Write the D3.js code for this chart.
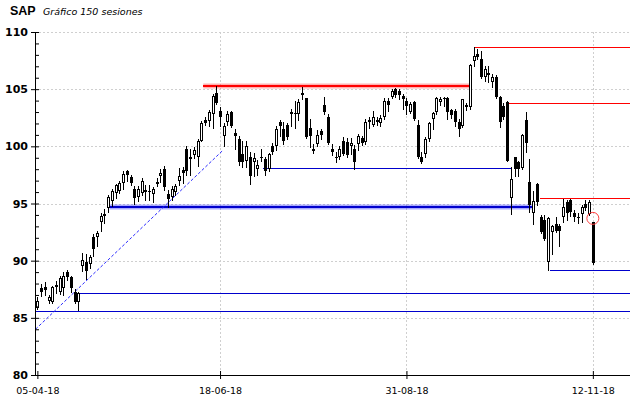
<!DOCTYPE html>
<html>
<head>
<meta charset="utf-8">
<script src="https://cdn.jsdelivr.net/npm/d3@7"></script>
<style>
  body { margin: 0; background: #fff; }
</style>
</head>
<body>
<div id="chart"></div>
<script>
const title = "SAP";
const subtitle = "Gráfico 150 sesiones";

// 150 sesiones (apertura, maximo, minimo, cierre)
const open = [
  85.9, 87.6, 87.7, 86.5, 86.4, 87.9, 87.3, 87.6, 89.0, 88.6,
  87.3, 86.4, 89.5, 89.9, 89.7, 92.1, 92.1, 93.4, 93.9, 94.6,
  95.2, 95.9, 96.1, 96.8, 97.8, 97.3, 96.3, 95.6, 95.9, 96.2,
  96.1, 95.8, 96.7, 97.4, 98.0, 95.8, 95.6, 96.0, 97.0, 97.9,
  99.8, 99.1, 99.2, 99.1, 100.5, 102.3, 102.2, 102.8, 104.7, 103.1,
  100.9, 102.1, 103.0, 101.2, 100.6, 99.3, 98.7, 99.1, 98.6, 98.0,
  99.1, 98.9, 98.0, 100.0, 100.0, 102.1, 101.5, 101.9, 103.0, 102.9,
  102.8, 104.6, 104.2, 101.6, 99.8, 100.2, 101.3, 103.6, 102.6, 99.8,
  99.1, 99.1, 100.5, 100.4, 100.0, 99.8, 100.2, 100.7, 100.4, 102.1,
  101.9, 102.3, 102.0, 102.6, 104.0, 104.3, 105.0, 104.8, 104.4, 104.0,
  103.0, 103.9, 101.9, 99.1, 99.3, 100.6, 102.4, 103.0, 103.9, 104.2,
  104.2, 103.2, 103.1, 102.1, 101.8, 103.6, 103.4, 107.5, 108.1, 107.6,
  106.1, 106.4, 105.6, 106.1, 104.3, 103.5, 103.9, 95.5, 99.1, 98.6,
  98.1, 102.3, 96.9, 94.2, 96.7, 93.8, 93.6, 89.9, 92.5, 93.2,
  93.0, 93.8, 95.1, 95.3, 94.2, 93.8, 94.1, 95.0, 94.1, 93.4
];
const high = [
  86.8, 88.0, 88.1, 87.0, 87.8, 88.2, 88.7, 89.0, 89.2, 88.7,
  87.5, 87.3, 90.7, 90.6, 90.5, 92.3, 92.6, 94.2, 94.5, 95.7,
  96.3, 96.7, 97.0, 97.8, 97.9, 97.5, 96.5, 96.5, 97.2, 96.6,
  96.6, 96.4, 97.2, 98.0, 98.3, 96.2, 96.5, 96.7, 98.1, 98.2,
  100.0, 99.8, 99.9, 100.6, 102.2, 102.6, 103.2, 104.6, 105.3, 103.4,
  102.0, 103.1, 103.1, 101.5, 100.9, 100.5, 100.5, 99.5, 99.4, 98.8,
  99.8, 99.1, 99.4, 100.3, 101.8, 102.3, 102.1, 102.0, 103.3, 104.0,
  104.1, 105.2, 104.2, 102.4, 100.2, 101.4, 101.5, 104.3, 102.8, 100.2,
  99.5, 100.0, 100.8, 100.7, 100.7, 100.1, 101.1, 100.9, 102.4, 102.6,
  103.1, 102.6, 102.7, 104.2, 104.2, 105.0, 105.1, 105.0, 104.6, 104.2,
  103.9, 104.0, 102.3, 99.5, 100.8, 102.1, 103.0, 104.3, 104.3, 104.3,
  104.3, 103.3, 103.3, 102.4, 104.1, 103.8, 107.2, 108.7, 108.5, 108.3,
  107.0, 107.0, 106.3, 106.2, 104.4, 103.8, 104.0, 98.2, 99.1, 98.7,
  101.1, 103.0, 98.9, 96.1, 96.8, 94.0, 94.0, 93.8, 93.1, 93.8,
  93.2, 95.4, 95.3, 95.4, 94.4, 94.2, 94.9, 95.3, 95.3, 93.4
];
const low = [
  85.8, 86.9, 87.0, 86.3, 86.3, 87.2, 87.1, 87.0, 88.3, 87.3,
  86.3, 85.7, 89.1, 88.4, 89.4, 90.4, 91.3, 92.6, 93.3, 94.3,
  94.8, 95.5, 95.9, 96.3, 97.0, 96.6, 95.0, 95.2, 95.7, 95.3,
  95.3, 95.1, 96.5, 96.9, 96.2, 94.7, 95.3, 95.7, 96.6, 96.8,
  97.5, 97.5, 99.0, 98.3, 100.5, 101.9, 101.8, 101.6, 103.7, 101.8,
  100.0, 101.9, 101.7, 99.8, 98.4, 98.2, 98.2, 96.7, 97.4, 97.5,
  98.7, 97.5, 97.8, 99.3, 99.7, 100.9, 100.2, 100.6, 101.8, 101.6,
  102.3, 104.1, 100.7, 99.9, 99.4, 100.0, 100.6, 102.8, 100.2, 99.2,
  98.6, 98.9, 99.2, 99.1, 99.3, 98.0, 99.7, 100.1, 100.2, 101.6,
  101.8, 101.9, 101.8, 102.4, 103.1, 104.2, 104.3, 104.1, 103.3, 102.8,
  102.9, 102.3, 99.0, 98.5, 99.1, 100.5, 101.5, 102.8, 103.6, 103.5,
  102.4, 102.5, 101.8, 100.9, 101.7, 103.2, 103.3, 107.0, 107.6, 106.0,
  105.7, 105.6, 105.2, 104.2, 101.7, 102.4, 98.7, 94.1, 97.4, 97.4,
  98.0, 99.5, 94.3, 93.2, 94.9, 92.4, 91.8, 89.2, 90.6, 92.5,
  91.3, 93.4, 93.6, 93.9, 93.5, 93.3, 93.4, 94.4, 94.0, 89.7
];
const close = [
  86.5, 87.3, 87.4, 86.8, 87.7, 87.7, 88.5, 88.7, 88.6, 87.6,
  86.4, 87.2, 90.1, 89.1, 90.3, 91.0, 92.4, 93.9, 94.1, 95.6,
  96.1, 96.6, 96.8, 97.6, 97.5, 96.8, 95.5, 96.3, 97.0, 96.0,
  96.0, 96.3, 96.9, 97.7, 96.4, 95.4, 96.3, 96.5, 97.4, 97.7,
  97.8, 98.9, 99.7, 100.5, 102.0, 102.0, 103.0, 104.4, 103.8, 102.6,
  101.8, 102.8, 101.8, 100.9, 98.6, 98.6, 100.0, 97.4, 99.0, 98.4,
  99.0, 97.8, 99.3, 99.5, 101.5, 101.8, 100.5, 100.8, 102.8, 102.8,
  103.9, 104.7, 100.8, 100.9, 99.6, 101.0, 101.0, 103.0, 100.3, 99.5,
  99.0, 99.8, 99.3, 99.2, 100.3, 98.6, 100.9, 100.3, 102.1, 102.3,
  102.6, 102.1, 102.5, 104.0, 103.6, 104.8, 104.5, 104.5, 104.1, 103.5,
  103.7, 102.4, 99.1, 98.6, 100.6, 102.0, 102.9, 104.2, 104.1, 104.1,
  103.0, 102.7, 102.1, 101.5, 104.1, 103.4, 107.1, 107.9, 107.8, 106.1,
  106.8, 106.2, 106.1, 104.3, 102.1, 102.6, 98.7, 97.1, 98.0, 98.0,
  101.0, 100.3, 94.9, 95.2, 95.1, 92.5, 91.9, 93.7, 93.0, 92.6,
  92.6, 94.7, 94.2, 94.3, 93.8, 93.7, 94.7, 94.6, 95.1, 89.8
];

const dateTicks = [0, 49, 99, 149];
const dateLabels = ["05-04-18", "18-06-18", "31-08-18", "12-11-18"];
const priceTicks = [80, 85, 90, 95, 100, 105, 110];

// niveles: [precio, sesion inicial, sesion final] (null = hasta el borde derecho)
const resistMain = [[105.3, 44.5, 116.1]];
const resistLevels = [[108.7, 117.5, null], [103.8, 126.6, null], [95.5, 134.7, null]];
const supportMain = [[94.7, 19.4, 132.6]];
const supportLevels = [[98.1, 60.4, 127.1], [89.2, 137.4, null], [87.2, 11.4, null], [85.6, -0.5, null]];
const trendLine = [[-0.5, 84.0], [49.6, 99.6]];
const marker = [149, 93.7];

const width = 640, height = 398;
const plotLeft = 35, plotRight = 630, plotTop = 32, plotBottom = 375;

const svg = d3.select("#chart").append("svg")
    .attr("width", width)
    .attr("height", height);

const x = d3.scaleLinear().domain([-0.5, 159.5]).range([35.5, 632]);
const y = d3.scaleLinear().domain([80, 110]).range([plotBottom, plotTop]);
const px = v => Math.round(v) + 0.5;
const xEnd = v => v === null ? plotRight : x(v);

// rejilla punteada
const grid = svg.append("g")
    .attr("stroke", "#cfcfcf")
    .attr("stroke-dasharray", "2,2")
    .attr("shape-rendering", "crispEdges");
grid.selectAll("line.h")
  .data(priceTicks.filter(p => p > 80))
  .join("line")
    .attr("x1", plotLeft).attr("x2", plotRight)
    .attr("y1", d => px(y(d))).attr("y2", d => px(y(d)));
grid.selectAll("line.v")
  .data(dateTicks.slice(1))
  .join("line")
    .attr("x1", d => px(x(d))).attr("x2", d => px(x(d)))
    .attr("y1", plotTop).attr("y2", plotBottom);

// niveles
const levels = svg.append("g").attr("fill", "none");
const drawLevels = (data, color, w, halo) => {
  if (halo) {
    levels.append("g").attr("stroke", halo).attr("stroke-width", 5)
      .selectAll("line").data(data).join("line")
        .attr("x1", d => x(d[1])).attr("x2", d => xEnd(d[2]))
        .attr("y1", d => Math.round(y(d[0]))).attr("y2", d => Math.round(y(d[0])));
  }
  levels.append("g").attr("stroke", color).attr("stroke-width", w)
      .attr("shape-rendering", "crispEdges")
    .selectAll("line").data(data).join("line")
      .attr("x1", d => x(d[1])).attr("x2", d => xEnd(d[2]))
      .attr("y1", d => w % 2 ? px(y(d[0])) : Math.round(y(d[0])))
      .attr("y2", d => w % 2 ? px(y(d[0])) : Math.round(y(d[0])));
};
drawLevels(resistMain, "#ff0000", 2, "rgba(255,60,60,0.4)");
drawLevels(resistLevels, "#ff0000", 1);
drawLevels(supportMain, "#0000cc", 2, "rgba(40,40,255,0.4)");
drawLevels(supportLevels, "#0000cc", 1);

// directriz alcista
svg.append("path")
    .datum(trendLine)
    .attr("fill", "none")
    .attr("stroke", "#2a2aff")
    .attr("stroke-width", 1)
    .attr("stroke-dasharray", "3,2")
    .attr("d", d3.line().x(d => x(d[0])).y(d => y(d[1])));

// velas
const candles = svg.append("g").attr("shape-rendering", "crispEdges");
const sessions = d3.range(open.length);
const node = candles.selectAll("g")
  .data(sessions)
  .join("g");
node.append("line")
    .attr("stroke", "#000")
    .attr("x1", i => Math.round(x(i)) + 0.5)
    .attr("x2", i => Math.round(x(i)) + 0.5)
    .attr("y1", i => Math.round(y(high[i])))
    .attr("y2", i => Math.round(y(low[i])) + 1);
node.filter(i => close[i] < open[i]).append("rect")
    .attr("fill", "#000")
    .attr("x", i => Math.round(x(i)) - 1)
    .attr("width", 3)
    .attr("y", i => Math.round(y(open[i])))
    .attr("height", i => Math.max(1, Math.round(y(close[i])) - Math.round(y(open[i]))));
node.filter(i => close[i] >= open[i]).append("rect")
    .attr("fill", "#fff")
    .attr("stroke", "#000")
    .attr("x", i => Math.round(x(i)) - 0.5)
    .attr("width", 2)
    .attr("y", i => Math.round(y(close[i])) + 0.5)
    .attr("height", i => Math.max(1, Math.round(y(open[i])) - Math.round(y(close[i])) - 1));

// marca ultima sesion
svg.append("circle")
    .attr("cx", x(marker[0]))
    .attr("cy", y(marker[1]))
    .attr("r", 6)
    .attr("fill", "none")
    .attr("stroke", "#ff4040")
    .attr("stroke-width", 1);

// eje Y
const yAxis = svg.append("g")
    .attr("transform", `translate(${plotLeft},0)`)
    .call(d3.axisLeft(y).tickValues(priceTicks).tickSize(4).tickSizeOuter(0).tickPadding(3));
yAxis.select(".domain").remove();
yAxis.selectAll(".tick line").attr("x1", 4).attr("stroke", "#000");
yAxis.selectAll("text")
    .attr("font-family", "DejaVu Sans, sans-serif")
    .attr("font-weight", "bold")
    .attr("font-size", 11)
    .attr("fill", "#000");
const minor = d3.range(81, 110).filter(v => v % 5 !== 0);
svg.append("g")
    .attr("transform", `translate(${plotLeft},0)`)
    .call(d3.axisRight(y).tickValues(minor).tickSize(4).tickFormat(""))
    .call(g => g.select(".domain").remove())
    .selectAll(".tick line").attr("stroke", "#000");

// eje X
const xAxis = svg.append("g")
    .attr("transform", `translate(0,${plotBottom})`)
    .call(d3.axisBottom(x).tickValues(dateTicks).tickFormat((d, i) => dateLabels[i])
      .tickSize(4).tickSizeOuter(0).tickPadding(8));
xAxis.select(".domain").remove();
xAxis.selectAll(".tick line").attr("y1", -4).attr("stroke", "#000");
xAxis.selectAll("text")
    .attr("font-family", "DejaVu Sans, sans-serif")
    .attr("font-size", 9.5)
    .attr("fill", "#000");

// lineas de ejes
svg.append("g")
    .attr("stroke", "#000")
    .attr("shape-rendering", "crispEdges")
  .call(g => g.append("line")
    .attr("x1", plotLeft + 0.5).attr("x2", plotLeft + 0.5)
    .attr("y1", plotTop).attr("y2", plotBottom + 0.5))
  .call(g => g.append("line")
    .attr("x1", plotLeft).attr("x2", plotRight)
    .attr("y1", plotBottom + 0.5).attr("y2", plotBottom + 0.5));

// titulo
svg.append("text")
    .attr("x", 10).attr("y", 15)
    .attr("font-family", "Liberation Sans, Arial, sans-serif")
    .attr("font-weight", "bold")
    .attr("font-size", 12.5)
    .text(title);
svg.append("text")
    .attr("x", 43).attr("y", 15)
    .attr("font-family", "DejaVu Sans, sans-serif")
    .attr("font-style", "italic")
    .attr("font-size", 9.5)
    .text(subtitle);
</script>
</body>
</html>
